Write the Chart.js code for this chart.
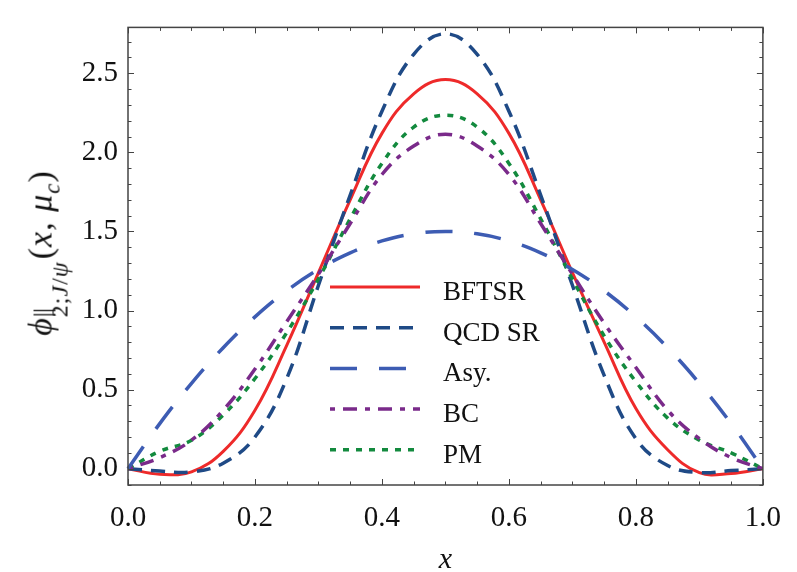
<!DOCTYPE html>
<html>
<head>
<meta charset="utf-8">
<script src="https://cdn.jsdelivr.net/npm/chart.js@4.4.1/dist/chart.umd.min.js"></script>
<style>
  html, body { margin: 0; padding: 0; background: #fff; }
  #wrap { position: relative; width: 797px; height: 572px; }
  #ylab {
    position: absolute; left: 44px; top: 253px;
    transform: translate(-50%, -50%) rotate(-90deg);
    font-family: "Liberation Serif", "DejaVu Serif", serif;
    font-size: 34px; white-space: nowrap; color: #111; line-height: 1; letter-spacing: 1px;
  }
  #ylab .ss { display: inline-flex; flex-direction: column; vertical-align: middle; font-size: 24px; line-height: 0.9; margin-right: 2px; position: relative; top: 7px; }
  #ylab .ss .sup { font-style: normal; letter-spacing: -1px; font-size: 26px; margin-bottom: -4px; }
  #ylab sub { font-size: 23px; }
</style>
</head>
<body>
<div id="wrap">
  <canvas id="c" width="797" height="572"></canvas>
  <div id="ylab"><i>ϕ</i><span class="ss"><span class="sup">||</span><span class="sub">2;<i>J</i>/<i>ψ</i></span></span>(<i>x</i>, <i>μ</i><sub><i>c</i></sub>)</div>
</div>
<script>
// ---- data ----
const xValues = [0, 0.05, 0.1, 0.15, 0.2, 0.25, 0.3, 0.35, 0.4, 0.45, 0.5, 0.55, 0.6, 0.65, 0.7, 0.75, 0.8, 0.85, 0.9, 0.95, 1.0];
const bftsr = [0, -0.035, -0.02, 0.11, 0.37, 0.78, 1.24, 1.70, 2.12, 2.37, 2.46, 2.37, 2.12, 1.70, 1.24, 0.80, 0.38, 0.12, -0.025, -0.03, 0];
const qcdSr = [0, -0.015, -0.02, 0.035, 0.20, 0.57, 1.16, 1.73, 2.26, 2.62, 2.75, 2.62, 2.26, 1.73, 1.16, 0.59, 0.19, 0.02, -0.024, -0.012, 0];
const asy   = [0, 0.285, 0.54, 0.765, 0.96, 1.125, 1.26, 1.365, 1.44, 1.485, 1.5, 1.485, 1.44, 1.365, 1.26, 1.125, 0.96, 0.765, 0.54, 0.285, 0];
const bc    = [0, 0.07, 0.18, 0.37, 0.63, 0.93, 1.23, 1.55, 1.86, 2.04, 2.115, 2.04, 1.86, 1.55, 1.23, 0.92, 0.64, 0.37, 0.19, 0.07, 0];
const pm    = [0, 0.11, 0.18, 0.34, 0.57, 0.86, 1.20, 1.58, 1.93, 2.16, 2.235, 2.16, 1.93, 1.58, 1.20, 0.84, 0.55, 0.32, 0.18, 0.10, 0];
const seriesLabels = ["BFTSR", "QCD SR", "Asy.", "BC", "PM"];
const xTicks = [0, 0.2, 0.4, 0.6, 0.8, 1.0];
const yTicks = [0, 0.5, 1.0, 1.5, 2.0, 2.5];
const xMinorStep = 0.05;
const yMinorStep = 0.1;

const seriesData = [bftsr, qcdSr, asy, bc, pm];
const styles = [
  { color: "#ee2a2a", dash: [], width: 3 },
  { color: "#1f4a86", dash: [14, 9], width: 3.5 },
  { color: "#3d5cb3", dash: [27, 22], width: 3.5 },
  { color: "#7a2a8a", dash: [5, 8, 14, 8], width: 3.5 },
  { color: "#138a3e", dash: [6, 7], width: 3.5 }
];

const datasets = seriesData.map((arr, i) => ({
  label: seriesLabels[i],
  data: arr.map((v, k) => ({ x: xValues[k], y: v })),
  borderColor: styles[i].color,
  borderWidth: styles[i].width,
  borderDash: styles[i].dash,
  pointRadius: 0,
  fill: false,
  tension: 0.4,
  clip: false
}));
// draw order: red on top like the reference
const ordered = [datasets[2], datasets[3], datasets[4], datasets[1], datasets[0]];

const serif = '"Liberation Serif", "DejaVu Serif", serif';

const framePlugin = {
  id: "frame",
  afterDatasetsDraw(chart) {
    const { ctx, chartArea: a, scales } = chart;
    const xs = scales.x, ys = scales.y;
    ctx.save();
    ctx.strokeStyle = "#444";
    ctx.lineWidth = 1.5;
    ctx.setLineDash([]);
    ctx.strokeRect(a.left, a.top, a.right - a.left, a.bottom - a.top);
    ctx.lineWidth = 1;
    for (let k = 0; k <= 20; k++) {
      const v = k * xMinorStep;
      const major = xTicks.some(t => Math.abs(t - v) < 1e-6);
      const len = major ? 6 : 3.5;
      const px = Math.round(xs.getPixelForValue(v)) + 0.5;
      ctx.beginPath();
      ctx.moveTo(px, a.bottom); ctx.lineTo(px, a.bottom - len);
      ctx.moveTo(px, a.top); ctx.lineTo(px, a.top + len);
      ctx.stroke();
    }
    for (let k = -1; k <= 27; k++) {
      const vv = k * yMinorStep;
      if (vv < ys.min || vv > ys.max) continue;
      const major = yTicks.some(t => Math.abs(t - vv) < 1e-6);
      const len = major ? 6 : 3.5;
      const py = Math.round(ys.getPixelForValue(vv)) + 0.5;
      ctx.beginPath();
      ctx.moveTo(a.left, py); ctx.lineTo(a.left + len, py);
      ctx.moveTo(a.right, py); ctx.lineTo(a.right - len, py);
      ctx.stroke();
    }
    ctx.restore();
  },
  afterDraw(chart) {
    const { ctx } = chart;
    ctx.save();
    const x0 = 330, x1 = 420, tx = 443, y0 = 287, dy = 40.7;
    datasets.forEach((ds, i) => {
      const y = y0 + dy * i;
      ctx.strokeStyle = ds.borderColor;
      ctx.lineWidth = ds.borderWidth;
      ctx.setLineDash(ds.borderDash);
      ctx.beginPath();
      ctx.moveTo(x0, y); ctx.lineTo(x1, y);
      ctx.stroke();
      ctx.setLineDash([]);
      ctx.fillStyle = "#111";
      ctx.font = "27px " + serif;
      ctx.textBaseline = "alphabetic";
      ctx.fillText(ds.label, tx, y + 13);
    });
    ctx.restore();
  }
};

new Chart(document.getElementById("c"), {
  type: "line",
  data: { datasets: ordered },
  options: {
    responsive: false,
    animation: false,
    layout: { padding: { top: 7, right: 31, left: 0, bottom: 0 } },
    plugins: { legend: { display: false }, tooltip: { enabled: false } },
    scales: {
      x: {
        type: "linear", min: 0, max: 1,
        afterBuildTicks: s => { s.ticks = xTicks.map(v => ({ value: v })); },
        afterFit: s => { s.height = 87; },
        grid: { display: false, drawTicks: false },
        border: { display: false },
        ticks: {
          color: "#111", padding: 16,
          font: { family: serif, size: 29 },
          callback: v => Number(v).toFixed(1)
        },
        title: {
          display: true, text: "x", color: "#111",
          font: { family: serif, size: 30, style: "italic", lineHeight: 0.8 },
          padding: { top: 16, bottom: 0 }
        }
      },
      y: {
        type: "linear", min: -0.103, max: 2.79,
        afterBuildTicks: s => { s.ticks = yTicks.map(v => ({ value: v })); },
        afterFit: s => { s.width = 128; },
        grid: { display: false, drawTicks: false },
        border: { display: false },
        ticks: {
          color: "#111", padding: 10,
          font: { family: serif, size: 29 },
          callback: v => Number(v).toFixed(1)
        }
      }
    }
  },
  plugins: [framePlugin]
});
</script>
</body>
</html>
